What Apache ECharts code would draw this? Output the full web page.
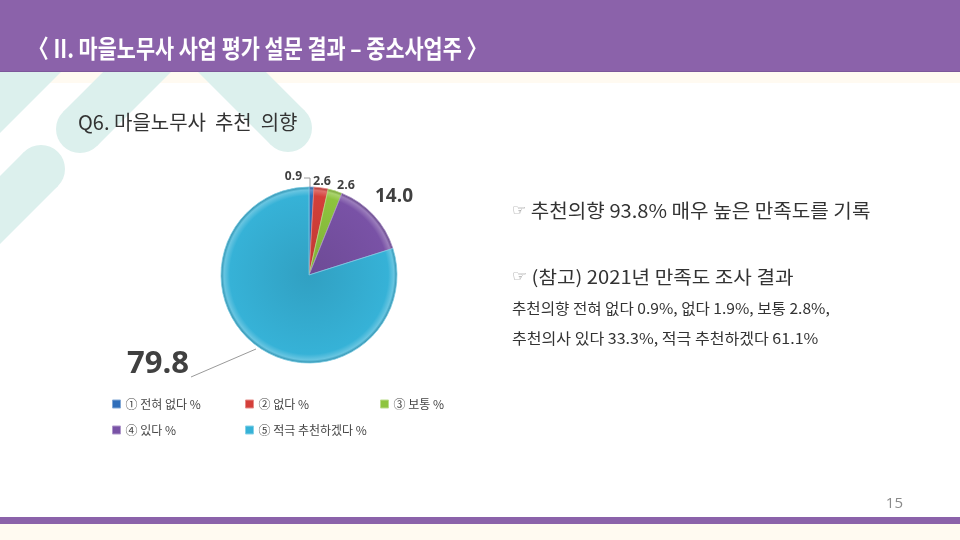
<!DOCTYPE html>
<html>
<head>
<meta charset="utf-8">
<script src="https://cdn.jsdelivr.net/npm/echarts@6/dist/echarts.min.js"></script>
<style>
html, body { margin: 0; padding: 0; background: #fff; }
#main { width: 960px; height: 540px; }
</style>
</head>
<body>
<div id="main"></div>
<script>
// survey answers (Q6, recommend intention)
var categories = ['① 전혀 없다 %', '② 없다 %', '③ 보통 %', '④ 있다 %', '⑤ 적극 추천하겠다 %'];
var values = [0.9, 2.6, 2.6, 14.0, 79.8];
var sliceColors = ['#2F6EBA', '#D43F3A', '#8DC43E', '#7952A6', '#36B2D7'];

var KR = '"Noto Sans CJK KR", "Noto Sans", sans-serif';
var PIE_C = [309, 275], PIE_R = 88;

function shade(hex, amt) {
  var n = parseInt(hex.slice(1), 16);
  var c = [(n >> 16) & 255, (n >> 8) & 255, n & 255].map(function (v) {
    return Math.round(amt > 0 ? v + (255 - v) * amt : v * (1 + amt));
  });
  return 'rgb(' + c.join(',') + ')';
}
function bevel(c) {
  return new echarts.graphic.RadialGradient(PIE_C[0], PIE_C[1], PIE_R, [
    {offset: 0, color: shade(c, -0.1)},
    {offset: 0.9, color: c},
    {offset: 0.965, color: shade(c, 0.25)},
    {offset: 1, color: shade(c, -0.2)}
  ], true);
}

// where each value label goes (label layout only)
var labelSpots = [
  {x: 302, y: 177, align: 'right', size: 12, line: [[304, 178], [310, 178], [310, 187]]},
  {x: 313, y: 181, align: 'left', size: 12.5},
  {x: 337, y: 185, align: 'left', size: 12.5},
  {x: 375, y: 197, align: 'left', size: 19},
  {x: 189, y: 364, align: 'right', size: 31, line: [[256, 349], [256, 349], [191, 377]]}
];

var legendSpots = [[112, 398], [245, 398], [380, 398], [112, 424], [245, 424]];

var myChart = echarts.init(document.getElementById('main'));

var pieData = categories.map(function (name, i) {
  var spot = labelSpots[i];
  return {
    name: name,
    value: values[i],
    itemStyle: {color: bevel(sliceColors[i]), borderColor: shade(sliceColors[i], 0.35), borderWidth: 0.8},
    label: {fontSize: spot.size},
    labelLine: {show: !!spot.line}
  };
});

var legends = categories.map(function (name, i) {
  return {
    left: legendSpots[i][0],
    top: legendSpots[i][1],
    padding: 0,
    orient: 'horizontal',
    itemWidth: 8,
    itemHeight: 8,
    itemGap: 0,
    itemTextGap: 4,
    icon: 'rect',
    selectedMode: false,
    textStyle: {fontFamily: KR, fontSize: 12, color: '#454545'},
    data: [{name: name, itemStyle: {color: sliceColors[i], borderColor: shade(sliceColors[i], 0.4), borderWidth: 1}}]
  };
});

// light teal rounded bands in the top-left corner (decoration)
var TEAL = '#DCF0ED';
function stripe(x1, y1, x2, y2, r) {
  var dx = x2 - x1, dy = y2 - y1, len = Math.sqrt(dx * dx + dy * dy);
  var nx = -dy / len * r, ny = dx / len * r;
  return [
    {type: 'polygon', z: 1, silent: true,
      shape: {points: [[x1 + nx, y1 + ny], [x2 + nx, y2 + ny], [x2 - nx, y2 - ny], [x1 - nx, y1 - ny]]},
      style: {fill: TEAL}},
    {type: 'circle', z: 1, silent: true, shape: {cx: x2, cy: y2, r: r}, style: {fill: TEAL}}
  ];
}

function sideText(y, str, size, sx) {
  return {
    type: 'text', z: 11, x: 512, y: y, scaleX: sx,
    style: {text: str, fill: '#333333', font: size + 'px ' + KR, textVerticalAlign: 'middle',
      rich: {h: {fontSize: 15, fill: '#8a8a8a', fontFamily: 'DejaVu Sans'}}}
  };
}

var option = {
  animation: false,
  backgroundColor: '#ffffff',
  legend: legends,
  graphic: [].concat(
    [{type: 'rect', z: 0, silent: true, shape: {x: 0, y: 72, width: 960, height: 11}, style: {fill: '#FFFAF1'}}],
    stripe(150, -51, -60, 159, 24),
    stripe(200, 9, 80, 129, 24),
    stripe(170, 10, 288, 128, 24),
    stripe(-100, 310, 41, 169, 24),
    [
      {type: 'rect', z: 10, silent: true, shape: {x: 0, y: 0, width: 960, height: 72}, style: {fill: '#8B62AA'}},
      {type: 'rect', z: 10, silent: true, shape: {x: 0, y: 71, width: 960, height: 1}, style: {fill: '#7C579A'}},
      {
        type: 'text', z: 11, x: 28, y: 48, scaleX: 0.83,
        style: {text: '〈 II. 마을노무사 사업 평가 설문 결과 – 중소사업주 〉', fill: '#ffffff',
          font: 'bold 25px ' + KR, textVerticalAlign: 'middle'}
      },
      {
        type: 'text', z: 11, x: 78, y: 122,
        style: {text: 'Q6. 마을노무사  추천  의향', fill: '#333333', font: '20px ' + KR, textVerticalAlign: 'middle'}
      },
      sideText(211, '{h|☞} 추천의향 93.8% 매우 높은 만족도를 기록', 19, 1.06),
      sideText(277, '{h|☞} (참고) 2021년 만족도 조사 결과', 18, 1.12),
      sideText(308, '추천의향 전혀 없다 0.9%, 없다 1.9%, 보통 2.8%,', 15, 1.04),
      sideText(338, '추천의사 있다 33.3%, 적극 추천하겠다 61.1%', 15, 1.07),
      {type: 'rect', z: 10, silent: true, shape: {x: 0, y: 517, width: 960, height: 7}, style: {fill: '#8B62AA'}},
      {type: 'rect', z: 10, silent: true, shape: {x: 0, y: 524, width: 960, height: 16}, style: {fill: '#FFFAF1'}},
      {
        type: 'text', z: 11, x: 903, y: 504,
        style: {text: '15', fill: '#8a8a8a', font: '15px "Open Sans", sans-serif', textAlign: 'right', textVerticalAlign: 'middle'}
      }
    ]
  ),
  series: [{
    type: 'pie',
    z: 5,
    center: PIE_C,
    radius: PIE_R,
    startAngle: 90,
    clockwise: true,
    data: pieData,
    label: {
      show: true,
      position: 'outside',
      formatter: function (p) { return p.value.toFixed(1); },
      fontFamily: '"Open Sans", sans-serif',
      fontWeight: 'bold',
      color: '#404040'
    },
    labelLine: {lineStyle: {color: '#9a9a9a', width: 1}, smooth: false},
    labelLayout: function (params) {
      var s = labelSpots[params.dataIndex];
      var out = {x: s.x, y: s.y, align: s.align, verticalAlign: 'middle'};
      if (s.line) out.labelLinePoints = s.line;
      return out;
    },
    emphasis: {disabled: true}
  }]
};

myChart.setOption(option, true);
</script>
</body>
</html>
